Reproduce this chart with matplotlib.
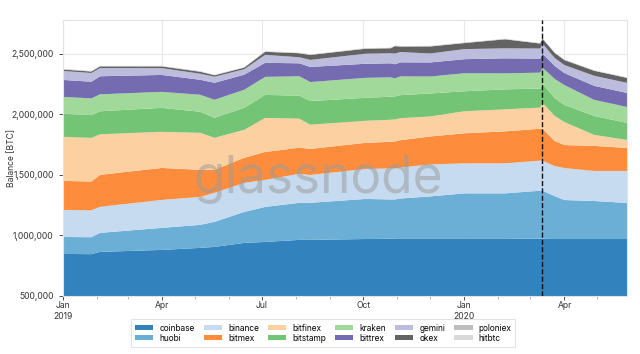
import matplotlib
matplotlib.use("Agg")
import matplotlib.pyplot as plt
import matplotlib.dates as mdates
from matplotlib.ticker import FuncFormatter
import pandas as pd

plt.rcParams['font.family'] = ['Inter', 'DejaVu Sans']

dates = pd.to_datetime([
    "2019-01-01", "2019-01-27", "2019-02-04", "2019-04-01", "2019-05-06",
    "2019-05-19", "2019-06-15", "2019-07-04", "2019-08-04", "2019-08-14",
    "2019-10-03", "2019-10-26", "2019-10-30", "2019-11-04", "2019-12-01",
    "2020-01-01", "2020-02-07", "2020-03-10", "2020-03-12", "2020-03-23",
    "2020-04-01", "2020-04-28", "2020-05-28",
])

# balances in thousands of BTC
coinbase = [847, 845, 864, 880, 897, 905, 938, 946, 963, 963, 970, 972, 975, 975, 975, 975, 975, 972, 972, 970, 970, 970, 970]
huobi = [140, 140, 157, 182, 190, 207, 256, 289, 306, 306, 331, 325, 322, 330, 347, 372, 372, 397, 397, 355, 322, 314, 298]
binance = [223, 222, 215, 231, 231, 240, 240, 223, 240, 230, 248, 256, 256, 256, 264, 248, 248, 248, 248, 248, 264, 248, 264]
bitmex = [240, 238, 264, 264, 223, 190, 207, 231, 215, 215, 215, 220, 223, 225, 231, 248, 264, 264, 264, 207, 190, 207, 190]
bitfinex = [364, 360, 335, 298, 306, 264, 231, 281, 240, 200, 182, 182, 182, 182, 165, 182, 182, 174, 215, 207, 190, 91, 66]
bitstamp = [190, 188, 190, 198, 174, 165, 182, 190, 190, 195, 190, 190, 190, 190, 190, 165, 165, 157, 157, 149, 140, 157, 140]
kraken = [140, 138, 140, 132, 140, 149, 149, 149, 160, 157, 165, 160, 149, 155, 140, 149, 132, 132, 132, 157, 165, 132, 132]
bittrex = [140, 138, 149, 140, 124, 140, 124, 116, 107, 125, 116, 116, 116, 116, 116, 116, 124, 116, 116, 107, 99, 116, 116]
gemini = [74, 72, 68, 56, 50, 50, 45, 66, 50, 58, 83, 83, 88, 85, 74, 83, 83, 83, 83, 66, 66, 83, 83]
okex = [12, 12, 13, 14, 16, 12, 13, 25, 33, 41, 41, 41, 62, 45, 58, 50, 74, 41, 41, 41, 41, 41, 41]
poloniex = [3, 3, 3, 3, 3, 3, 3, 3, 3, 3, 3, 3, 3, 3, 3, 3, 3, 3, 3, 3, 3, 3, 3]
hitbtc = [2, 2, 2, 2, 2, 2, 2, 2, 2, 2, 2, 2, 2, 2, 2, 2, 2, 2, 2, 2, 2, 2, 2]

names = ["coinbase", "huobi", "binance", "bitmex", "bitfinex", "bitstamp",
         "kraken", "bittrex", "gemini", "okex", "poloniex", "hitbtc"]
series = [coinbase, huobi, binance, bitmex, bitfinex, bitstamp,
          kraken, bittrex, gemini, okex, poloniex, hitbtc]
colors = ["#3182bd", "#6baed6", "#c6dbef", "#fd8d3c", "#fdd0a2", "#74c476",
          "#a1d99b", "#756bb1", "#bcbddc", "#636363", "#bdbdbd", "#d9d9d9"]

event = pd.Timestamp("2020-03-12")

fig = plt.figure(figsize=(6.4, 3.54), dpi=100)
ax = fig.add_axes([0.098, 0.164, 0.882, 0.78])

vals = [[v * 1000 for v in s] for s in series]
ax.stackplot(dates, *vals, labels=names, colors=colors, lw=0, zorder=2)
ax.axvline(event, color="#111111", ls="--", lw=1.0, zorder=4)

ax.set_xlim(pd.Timestamp("2019-01-01"), pd.Timestamp("2020-05-28"))
ax.set_ylim(500000, 2780000)
ax.set_yticks([500000, 1000000, 1500000, 2000000, 2500000])
ax.yaxis.set_major_formatter(FuncFormatter(lambda v, p: f"{int(v):,}"))

ax.xaxis.set_major_locator(mdates.MonthLocator(bymonth=[1, 4, 7, 10]))
ax.xaxis.set_minor_locator(mdates.MonthLocator())
def fmt_date(x, pos):
    d = mdates.num2date(x)
    s = d.strftime("%b")
    if d.month == 1:
        s += "\n" + str(d.year)
    return s
ax.xaxis.set_major_formatter(FuncFormatter(fmt_date))

ax.grid(True, color="#e8e8e8", lw=0.8, zorder=0)
ax.set_axisbelow(True)
for sp in ax.spines.values():
    sp.set_color("#e3e3e3")
    sp.set_linewidth(0.8)
ax.tick_params(axis="both", labelsize=6.2, colors="#333333", length=3, width=0.6)
ax.tick_params(axis="x", which="minor", length=2, width=0.5, colors="#999999")
ax.tick_params(axis="x", pad=1)
ax.set_ylabel("Balance [BTC]", fontsize=6.2, color="#333333")
ax.yaxis.set_label_coords(-0.082, 0.5)

ax.text(0.452, 0.42, "glassnode", transform=ax.transAxes, ha="center", va="center",
        fontsize=37, color="#999999", alpha=0.5, zorder=3)

leg = fig.legend(loc="lower center", bbox_to_anchor=(0.505, 0.008), ncol=6,
                 fontsize=6, frameon=True, handlelength=2.2, handleheight=0.55,
                 handletextpad=0.7, columnspacing=1.1, borderpad=0.5,
                 labelspacing=0.15, fancybox=False)
leg.get_frame().set_edgecolor("#dddddd")
leg.get_frame().set_linewidth(0.8)

fig.savefig("out.png", dpi=100)
